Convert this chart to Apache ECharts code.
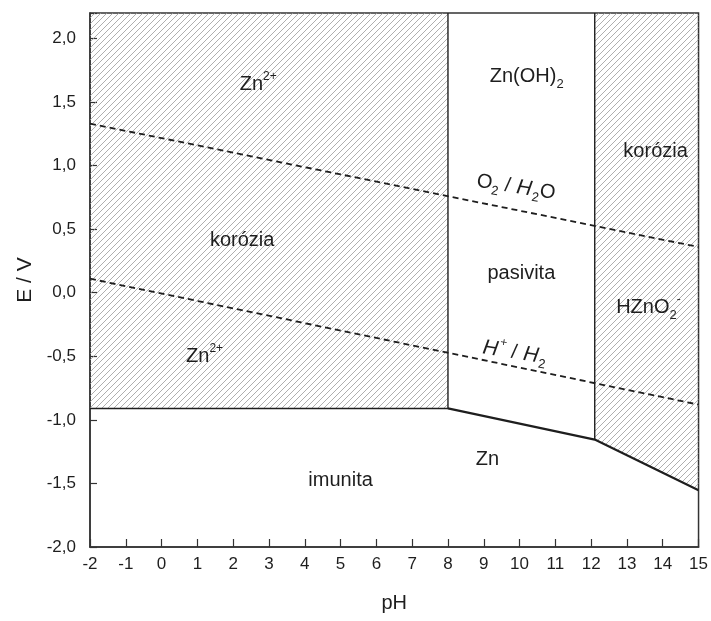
<!DOCTYPE html>
<html>
<head>
<meta charset="utf-8">
<script src="https://cdn.jsdelivr.net/npm/echarts@6/dist/echarts.min.js"></script>
<style>
  html, body { margin: 0; padding: 0; background: #fff; }
  #chart { width: 711px; height: 621px; }
</style>
</head>
<body>
<div id="chart"></div>
<script>
// Pourbaix (E–pH) diagram of zinc

// axis ranges
const phRange = [-2, 15];
const eRange = [-2, 2.2];

// phase boundaries (pH, E / V)
const znIonBoundary = [[-2, -0.91], [8, -0.91]];                    // Zn2+ / Zn
const znOxideBoundary = [[8, -0.91], [12.1, -1.155], [15, -1.553]]; // Zn(OH)2, HZnO2- / Zn
const zincHydroxideEdge = [[8, -0.91], [8, 2.2]];                   // Zn2+ / Zn(OH)2
const zincateEdge = [[12.1, -1.155], [12.1, 2.2]];                  // Zn(OH)2 / HZnO2-

// water stability lines
const oxygenLine = [[-2, 1.33], [15, 0.36]];    // O2 / H2O
const hydrogenLine = [[-2, 0.11], [15, -0.88]]; // H+ / H2

// corrosion regions (hatched)
const zincIonRegion = [[-2, -0.91], [8, -0.91], [8, 2.2], [-2, 2.2]];
const zincateRegion = [[12.1, -1.155], [15, -1.553], [15, 2.2], [12.1, 2.2]];

// region and line labels: [pH, E, rich text, rotation in degrees]
const regionLabels = [
  [2.7, 1.64, '{n|Zn}{sup|2+}', 0],
  [2.25, 0.41, '{n|korózia}', 0],
  [1.2, -0.5, '{n|Zn}{sup|2+}', 0],
  [5.0, -1.48, '{n|imunita}', 0],
  [9.1, -1.31, '{n|Zn}', 0],
  [10.2, 1.7, '{n|Zn(OH)}{sub|2}', 0],
  [10.05, 0.15, '{n|pasivita}', 0],
  [13.8, 1.11, '{n|korózia}', 0],
  [13.6, -0.12, '{n|HZnO}{sub|2}{sup|-}', 0],
  [9.9, 0.83, '{n|O}{sub|2}{n| / }{i|H}{sub|2}{n|O}', -9],
  [9.85, -0.47, '{i|H}{sup|+}{n| / }{i|H}{sub|2}', -9]
];

// diagonal hatch tile
function hatchTile() {
  const s = 6;
  const c = document.createElement('canvas');
  c.width = s; c.height = s;
  const ctx = c.getContext('2d');
  ctx.strokeStyle = '#9a9a9a';
  ctx.lineWidth = 0.8;
  ctx.beginPath();
  ctx.moveTo(0, s); ctx.lineTo(s, 0);
  ctx.moveTo(-1, 1); ctx.lineTo(1, -1);
  ctx.moveTo(s - 1, s + 1); ctx.lineTo(s + 1, s - 1);
  ctx.stroke();
  return c;
}
const hatch = { image: hatchTile(), repeat: 'repeat' };

const regions = [zincIonRegion, zincateRegion];
const inkColor = '#1e1e1e';
const font = '"Liberation Sans", Arial, sans-serif';

const richStyles = {
  n: { fontSize: 20, lineHeight: 28, color: inkColor, fontFamily: font },
  i: { fontSize: 21, lineHeight: 28, color: inkColor, fontFamily: font, fontStyle: 'italic', padding: [0, 1, 0, 1] },
  sup: { fontSize: 12, lineHeight: 14, verticalAlign: 'top', color: inkColor, fontFamily: font },
  sub: { fontSize: 13, lineHeight: 12, verticalAlign: 'bottom', color: inkColor, fontFamily: font }
};

function fmtComma(v) {
  if (Math.abs(v * 2 - Math.round(v * 2)) > 1e-6) return '';
  return v.toFixed(1).replace('.', ',');
}

const chart = echarts.init(document.getElementById('chart'), null, { renderer: 'canvas' });

const solidLine = (data, width) => ({
  type: 'line',
  data: data,
  symbol: 'none',
  silent: true,
  z: 5,
  lineStyle: { color: inkColor, width: width, type: 'solid' },
  animation: false
});

const dashedLine = (data) => ({
  type: 'line',
  data: data,
  symbol: 'none',
  silent: true,
  z: 6,
  lineStyle: { color: inkColor, width: 1.8, type: [6, 4] },
  animation: false
});

chart.setOption({
  animation: false,
  backgroundColor: '#fff',
  grid: {
    left: 90, right: 12, top: 13, bottom: 74,
    show: true, borderColor: '#333', borderWidth: 1.5, backgroundColor: 'transparent'
  },
  xAxis: {
    type: 'value',
    min: phRange[0], max: phRange[1], interval: 1,
    name: 'pH', nameLocation: 'middle', nameGap: 46,
    nameTextStyle: { fontSize: 20, color: inkColor, fontFamily: font },
    axisLine: { onZero: false, lineStyle: { color: '#333', width: 1.5 } },
    axisTick: { inside: true, length: 8, lineStyle: { color: '#333', width: 1.2 } },
    axisLabel: { fontSize: 17, color: inkColor, fontFamily: font, margin: 9 },
    splitLine: { show: false }
  },
  yAxis: {
    type: 'value',
    min: eRange[0], max: eRange[1], interval: 0.5,
    name: 'E / V', nameLocation: 'middle', nameGap: 52, nameRotate: 90,
    nameTextStyle: { fontSize: 21, color: inkColor, fontFamily: font },
    axisLine: { onZero: false, lineStyle: { color: '#333', width: 1.5 } },
    axisTick: { inside: true, length: 7, lineStyle: { color: '#333', width: 1.2 } },
    axisLabel: { fontSize: 17, color: inkColor, fontFamily: font, margin: 14, formatter: fmtComma },
    splitLine: { show: false }
  },
  series: [
    {
      type: 'custom',
      data: regions.map((r, i) => i),
      silent: true,
      z: 1,
      renderItem: function (params, api) {
        const poly = regions[params.dataIndex].map(p => api.coord(p));
        return {
          type: 'polygon',
          shape: { points: poly },
          style: { fill: hatch, stroke: null }
        };
      }
    },
    solidLine(znIonBoundary, 1.5),
    solidLine(znOxideBoundary, 2.2),
    solidLine(zincHydroxideEdge, 1.4),
    solidLine(zincateEdge, 1.4),
    dashedLine(oxygenLine),
    dashedLine(hydrogenLine),
    {
      type: 'scatter',
      symbolSize: 0,
      silent: true,
      z: 10,
      itemStyle: { opacity: 1, color: inkColor },
      data: regionLabels.map(l => ({
        value: [l[0], l[1]],
        label: {
          show: true,
          position: [0, 0],
          align: 'center',
          verticalAlign: 'middle',
          rotate: l[3],
          color: inkColor,
          opacity: 1,
          textBorderWidth: 0,
          formatter: l[2],
          rich: richStyles
        }
      }))
    }
  ]
});
</script>
</body>
</html>
